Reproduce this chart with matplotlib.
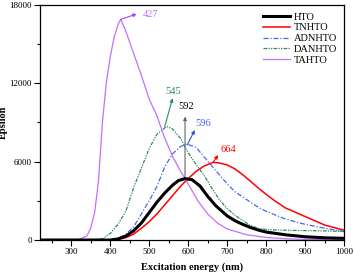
import matplotlib
matplotlib.use('Agg')
import matplotlib.pyplot as plt
from matplotlib.ticker import MultipleLocator

plt.rcParams['font.family'] = ['Liberation Serif', 'DejaVu Serif']

# wavelength (nm) / epsilon
hto_x = [220, 400, 420, 440, 460, 480, 500, 520, 540, 560, 575, 592, 610, 630, 650, 670,
         700, 720, 740, 760, 780, 800, 850, 900, 950, 1000]
hto_y = [0, 0, 80, 300, 700, 1300, 2100, 2900, 3600, 4200, 4550, 4700, 4620, 4150, 3350, 2650,
         1850, 1480, 1200, 960, 760, 610, 400, 250, 170, 130]

tnhto_x = [220, 400, 420, 440, 460, 480, 500, 520, 540, 560, 580, 600, 620, 640, 664, 680,
           700, 720, 740, 760, 780, 800, 820, 850, 900, 950, 1000]
tnhto_y = [0, 0, 50, 180, 450, 900, 1400, 2000, 2700, 3400, 4100, 4700, 5250, 5650, 5950, 5900,
           5750, 5450, 5000, 4500, 3980, 3500, 3050, 2450, 1800, 1150, 750]

adnhto_x = [220, 400, 420, 440, 460, 480, 500, 520, 540, 560, 580, 596, 620, 640, 660, 680,
            700, 720, 740, 760, 780, 800, 850, 900, 950, 1000]
adnhto_y = [0, 0, 100, 450, 1000, 2000, 3000, 4100, 5600, 6600, 7150, 7350, 7100, 6400, 5700, 5000,
            4300, 3700, 3300, 2900, 2500, 2200, 1600, 1200, 900, 650]

danhto_x = [220, 360, 380, 400, 420, 440, 460, 480, 500, 520, 545, 560, 580, 600, 620, 640,
            660, 680, 700, 720, 740, 760, 780, 800, 850, 900, 950, 1000]
danhto_y = [0, 0, 100, 500, 1200, 2200, 4000, 5500, 7000, 8100, 8700, 8500, 7800, 6700, 5800, 5000,
            4000, 3100, 2400, 1900, 1500, 1100, 900, 800, 750, 720, 700, 650]

tahto_x = [220, 300, 320, 340, 350, 360, 370, 380, 390, 400, 410, 420, 427, 440, 460, 480,
           500, 520, 540, 560, 580, 600, 625, 650, 675, 700, 750, 800, 850, 900, 1000]
tahto_y = [0, 0, 50, 300, 900, 2100, 4500, 9000, 12000, 14000, 15500, 16500, 16900, 16000, 14300, 12600,
           10800, 9500, 7800, 6400, 5300, 4300, 3000, 2000, 1300, 850, 400, 200, 100, 50, 20]

fig = plt.figure(figsize=(3.54, 2.74), dpi=100)
ax = fig.add_axes([0.113, 0.124, 0.859, 0.858])

ax.plot(hto_x, hto_y, color='black', lw=2.2, label='HTO', zorder=5)
ax.plot(tnhto_x, tnhto_y, color='red', lw=1.1, label='TNHTO')
ax.plot(adnhto_x, adnhto_y, color='#4a66e8', lw=0.9, dashes=(4, 1.5, 1, 1.5), label='ADNHTO')
ax.plot(danhto_x, danhto_y, color='#2e8b60', lw=0.9, dashes=(3, 1, 1, 1, 1, 1), label='DANHTO')
ax.plot(tahto_x, tahto_y, color='#c070ff', lw=0.9, label='TAHTO')

# peak annotations
def peak_arrow(x0, y0, x1, y1, col):
    ax.annotate('', xy=(x1, y1), xytext=(x0, y0),
                arrowprops=dict(arrowstyle='-|>', color=col, lw=0.8,
                                mutation_scale=5, shrinkA=0, shrinkB=0))

peak_arrow(427, 16900, 468, 17300, '#b040e0')
ax.text(484, 17300, '427', color='#c070ff', fontsize=7.5, va='center', ha='left')

peak_arrow(540, 8680, 560, 10850, '#2e8b60')
ax.text(562, 11400, '545', color='#2e8b60', fontsize=7.5, va='center', ha='center')

peak_arrow(592, 4700, 592, 9450, '#666666')
ax.text(596, 10250, '592', color='black', fontsize=7.5, va='center', ha='center')

peak_arrow(598, 7300, 617, 8420, '#3050e0')
ax.text(639, 8950, '596', color='#4a66e8', fontsize=7.5, va='center', ha='center')

peak_arrow(664, 5950, 677, 6500, 'red')
ax.text(703, 6950, '664', color='red', fontsize=7.5, va='center', ha='center')

ax.set_xlim(220, 1000)
ax.set_ylim(0, 18000)
ax.xaxis.set_major_locator(MultipleLocator(100))
ax.xaxis.set_minor_locator(MultipleLocator(50))
ax.yaxis.set_major_locator(MultipleLocator(6000))
ax.yaxis.set_minor_locator(MultipleLocator(3000))
ax.tick_params(which='major', direction='out', length=4, width=0.8, labelsize=6.5, pad=2)
ax.tick_params(which='minor', direction='out', length=2, width=0.8)
for s in ax.spines.values():
    s.set_linewidth(0.9)

ax.set_xlabel('Excitation energy (nm)', fontsize=7.5, fontweight='bold', labelpad=4)
ax.set_ylabel('Epsilon', fontsize=7.5, fontweight='bold', labelpad=1)

leg = ax.legend(loc='upper right', fontsize=7.5, frameon=False, handlelength=2.6,
                handletextpad=0.3, labelspacing=0.15, borderaxespad=0.3)

fig.savefig('out.png', dpi=100)
